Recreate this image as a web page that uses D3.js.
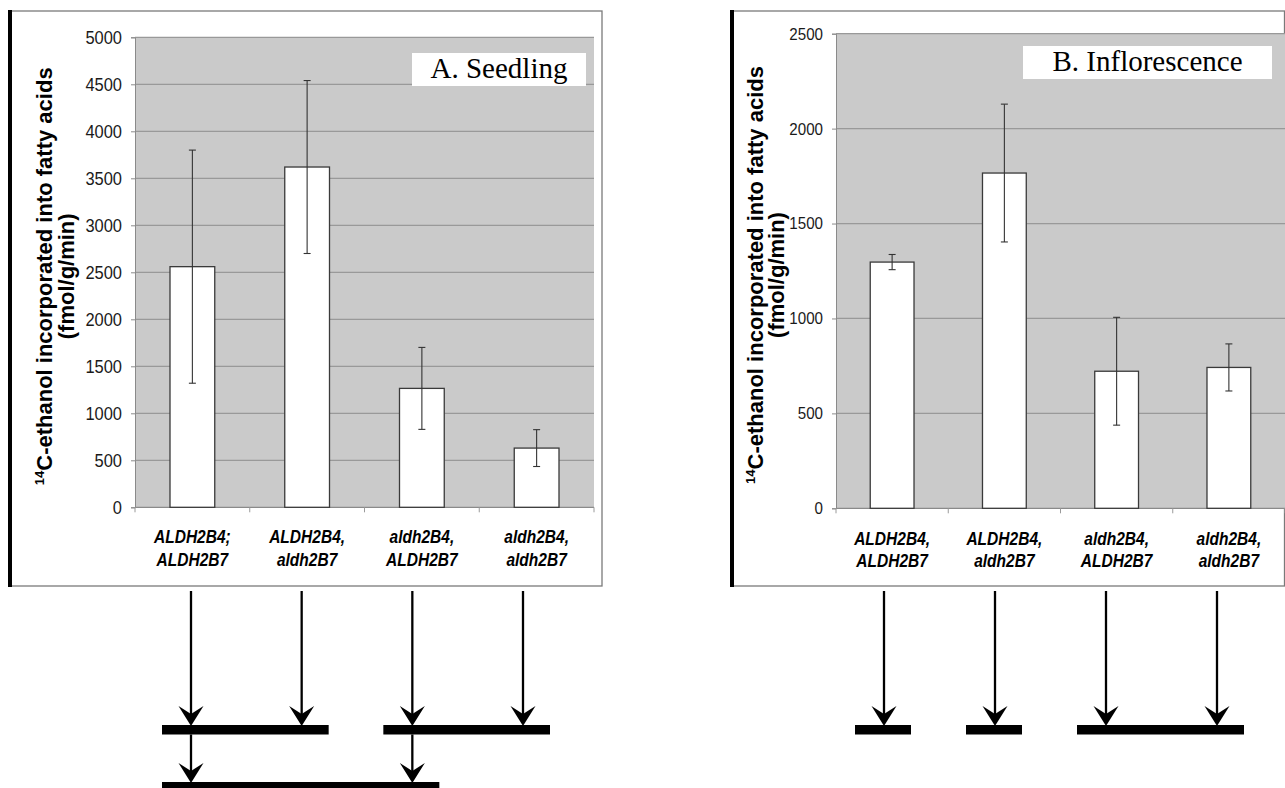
<!DOCTYPE html>
<html>
<head>
<meta charset="utf-8">
<script src="https://cdn.jsdelivr.net/npm/d3@7"></script>
<style>
body { margin: 0; background: #fff; }
text { font-family: "Liberation Sans", Arial, sans-serif; }
</style>
</head>
<body>
<div id="chart"></div>
<script>
const WIDTH = 1285, HEIGHT = 788
const NARROW = 0.84   // the category labels are Arial Narrow
const TICK_NARROW = 0.89

// panel A: seedling
const seedling_labels = [["ALDH2B4;", "ALDH2B7"], ["ALDH2B4,", "aldh2B7"], ["aldh2B4,", "ALDH2B7"], ["aldh2B4,", "aldh2B7"]]
const seedling_mean = [2560, 3620, 1265, 630]
const seedling_err = [1240, 920, 436, 196]
const seedling_ticks = [0, 500, 1000, 1500, 2000, 2500, 3000, 3500, 4000, 4500, 5000]
// arrows: which genotypes are joined at each level below the chart
const seedling_groups = [[[0, 1], [2, 3]], [[0, 2]]]

// panel B: inflorescence
const inflor_labels = [["ALDH2B4,", "ALDH2B7"], ["ALDH2B4,", "aldh2B7"], ["aldh2B4,", "ALDH2B7"], ["aldh2B4,", "aldh2B7"]]
const inflor_mean = [1297, 1766, 722, 742]
const inflor_err = [40, 363, 284, 124]
const inflor_ticks = [0, 500, 1000, 1500, 2000, 2500]
const inflor_groups = [[[0], [1], [2, 3]]]

const panels = [
    {
        title: "A. Seedling", labels: seedling_labels, mean: seedling_mean, err: seedling_err,
        ticks: seedling_ticks, groups: seedling_groups,
        frame: {x0: 10, y0: 11, x1: 602, y1: 586},
        plot: {left: 135, right: 594, top: 37.3, bottom: 507.3},
        tick_font: 18.5, label_y: [543, 566],
        ytitle_x: [52, 74],
        box: {x0: 412, x1: 586, y0: 53, y1: 86},
        arrow_x: [191, 523]
    },
    {
        title: "B. Inflorescence", labels: inflor_labels, mean: inflor_mean, err: inflor_err,
        ticks: inflor_ticks, groups: inflor_groups,
        frame: {x0: 732, y0: 11, x1: 1284.5, y1: 586},
        plot: {left: 836, right: 1285, top: 33.7, bottom: 508.3},
        tick_font: 17, label_y: [545, 567],
        ytitle_x: [763, 784],
        box: {x0: 1023, x1: 1272, y0: 46, y1: 79},
        arrow_x: [884, 1217]
    }
]

const ARROW_START = 591
const LEVEL_TIPS = [725, 782]
const BAR_THICK = 9.5

const svg = d3.select("#chart")
    .append("svg")
    .attr("width", WIDTH)
    .attr("height", HEIGHT)

function draw_panel(p) {
    const g = svg.append("g")
    const n = p.mean.length

    const x = d3.scaleBand()
        .domain(d3.range(n))
        .range([p.plot.left, p.plot.right])
        .paddingInner(0).paddingOuter(0)
    const y = d3.scaleLinear()
        .domain([0, d3.max(p.ticks)])
        .range([p.plot.bottom, p.plot.top])

    // frame
    g.append("rect")
        .attr("x", p.frame.x0).attr("y", p.frame.y0)
        .attr("width", p.frame.x1 - p.frame.x0)
        .attr("height", p.frame.y1 - p.frame.y0)
        .style("fill", "#fff").style("stroke", "#7a7a7a").style("stroke-width", 1.3)
    g.append("line")
        .attr("x1", p.frame.x0).attr("x2", p.frame.x0)
        .attr("y1", p.frame.y0 - 1).attr("y2", p.frame.y1 + 1)
        .style("stroke", "#000").style("stroke-width", 4)

    // plot area
    g.append("rect")
        .attr("x", p.plot.left).attr("y", p.plot.top)
        .attr("width", p.plot.right - p.plot.left)
        .attr("height", p.plot.bottom - p.plot.top)
        .style("fill", "#cacaca")

    g.selectAll(".grid")
        .data(p.ticks.filter(t => t > 0))
        .enter().append("line")
        .attr("class", "grid")
        .attr("x1", p.plot.left).attr("x2", p.plot.right)
        .attr("y1", d => y(d)).attr("y2", d => y(d))
        .style("stroke", "#999").style("stroke-width", 1.2)

    // y axis
    const $yaxis = g.append("g")
        .attr("transform", `translate(${p.plot.left},0)`)
        .attr("font-size", p.tick_font)
        .call(d3.axisLeft(y).tickValues(p.ticks).tickFormat(d3.format("d")).tickSize(4).tickPadding(9))
    $yaxis.attr("font-size", p.tick_font).attr("font-family", null)
    $yaxis.select(".domain").style("stroke", "#8a8a8a")
    $yaxis.selectAll(".tick line").style("stroke", "#8a8a8a")
    $yaxis.selectAll("text")
        .attr("x", -13 / TICK_NARROW)
        .attr("transform", `scale(${TICK_NARROW},1)`)
        .style("font-size", p.tick_font + "px")
        .style("fill", "#1a1a1a")

    // x axis
    const $xaxis = g.append("g")
        .attr("transform", `translate(0,${p.plot.bottom})`)
    $xaxis.append("line")
        .attr("x1", p.plot.left).attr("x2", p.plot.right)
        .style("stroke", "#8a8a8a").style("stroke-width", 1.3)
    $xaxis.selectAll(".xtick")
        .data(d3.range(n + 1))
        .enter().append("line")
        .attr("class", "xtick")
        .attr("x1", d => p.plot.left + d * x.bandwidth())
        .attr("x2", d => p.plot.left + d * x.bandwidth())
        .attr("y1", 0).attr("y2", 5)
        .style("stroke", "#9a9a9a")

    // bars
    const bw = x.bandwidth() * 0.39
    g.selectAll(".bar")
        .data(p.mean)
        .enter().append("rect")
        .attr("class", "bar")
        .attr("x", (d, i) => x(i) + x.bandwidth() / 2 - bw / 2)
        .attr("y", d => y(d))
        .attr("width", bw)
        .attr("height", d => y(0) - y(d))
        .style("fill", "#fff").style("stroke", "#3a3a3a").style("stroke-width", 1.3)

    // error bars
    const errs = p.mean.map((m, i) => ({i, lo: m - p.err[i], hi: m + p.err[i]}))
    const $err = g.selectAll(".err")
        .data(errs)
        .enter().append("g")
        .attr("class", "err")
        .attr("transform", d => `translate(${x(d.i) + x.bandwidth() / 2},0)`)
        .style("stroke", "#333").style("stroke-width", 1.1)
    $err.append("line").attr("y1", d => y(d.lo)).attr("y2", d => y(d.hi))
    $err.append("line").attr("x1", -3.5).attr("x2", 3.5).attr("y1", d => y(d.lo)).attr("y2", d => y(d.lo))
    $err.append("line").attr("x1", -3.5).attr("x2", 3.5).attr("y1", d => y(d.hi)).attr("y2", d => y(d.hi))

    // category labels
    const $lab = g.selectAll(".xlab")
        .data(p.labels)
        .enter().append("g")
        .attr("class", "xlab")
    p.label_y.forEach((ly, k) => {
        $lab.append("text")
            .attr("transform", (d, i) => `translate(${x(i) + x.bandwidth() / 2},${ly}) scale(${NARROW},1)`)
            .attr("text-anchor", "middle")
            .style("font-size", "18.5px")
            .style("font-weight", "bold")
            .style("font-style", "italic")
            .text(d => d[k])
    })

    // y title
    const cy = (p.plot.top + p.plot.bottom) / 2 + 4
    const t1 = g.append("text")
        .attr("transform", `translate(${p.ytitle_x[0]},${cy}) rotate(-90)`)
        .attr("text-anchor", "middle")
        .style("font-size", "22px").style("font-weight", "bold")
    t1.append("tspan").attr("dy", -8).style("font-size", "13px").text("14")
    t1.append("tspan").attr("dy", 8).text("C-ethanol incorporated into fatty acids")
    g.append("text")
        .attr("transform", `translate(${p.ytitle_x[1]},${cy}) rotate(-90)`)
        .attr("text-anchor", "middle")
        .style("font-size", "22px").style("font-weight", "bold")
        .text("(fmol/g/min)")

    // panel title box
    g.append("rect")
        .attr("x", p.box.x0).attr("y", p.box.y0)
        .attr("width", p.box.x1 - p.box.x0).attr("height", p.box.y1 - p.box.y0)
        .style("fill", "#fff")
    g.append("text")
        .attr("x", (p.box.x0 + p.box.x1) / 2)
        .attr("y", p.box.y1 - 8)
        .attr("text-anchor", "middle")
        .style("font-family", "'Liberation Serif', 'Times New Roman', serif")
        .style("font-size", "29px")
        .text(p.title)

    // arrows and joining bars below the chart
    const ax = d3.scaleLinear().domain([0, n - 1]).range(p.arrow_x)
    p.groups.forEach((level, li) => {
        const tip = LEVEL_TIPS[li]
        const start = li == 0 ? ARROW_START : LEVEL_TIPS[li - 1] + BAR_THICK
        const members = level.flat()
        const $arrow = g.selectAll(".arrow" + li)
            .data(members)
            .enter().append("g")
            .attr("class", "arrow" + li)
            .attr("transform", d => `translate(${ax(d)},0)`)
        $arrow.append("line")
            .attr("y1", start).attr("y2", tip - 6)
            .style("stroke", "#000").style("stroke-width", 2.3)
        $arrow.append("path")
            .attr("d", `M0,${tip + 1} L-12.5,${tip - 19} L0,${tip - 11} L12.5,${tip - 19} Z`)
            .style("fill", "#000")
        g.selectAll(".join" + li)
            .data(level)
            .enter().append("rect")
            .attr("class", "join" + li)
            .attr("x", d => ax(d[0]) - 29)
            .attr("y", tip)
            .attr("width", d => ax(d[d.length - 1]) - ax(d[0]) + 56)
            .attr("height", BAR_THICK)
            .style("fill", "#000")
    })
}

panels.forEach(draw_panel)
</script>
</body>
</html>
